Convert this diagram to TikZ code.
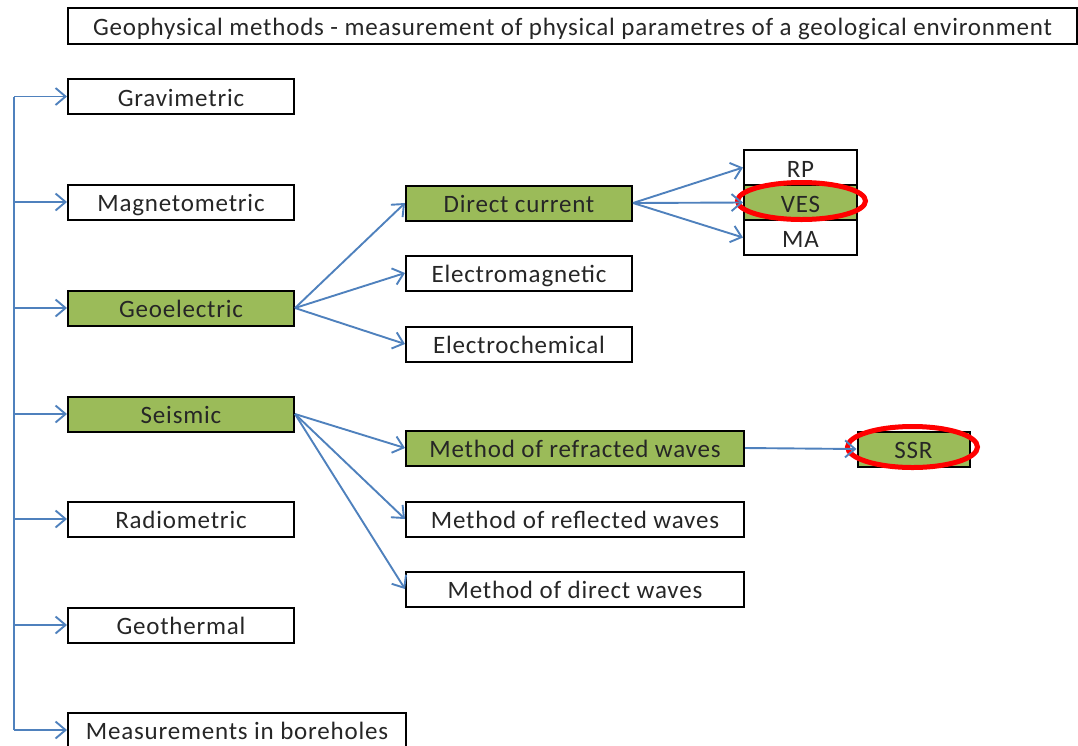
\documentclass[tikz,border=0pt]{standalone}
\usepackage{fontspec}
\setmainfont{Carlito}[LetterSpace=3.2]
\usepackage{xcolor}
\usetikzlibrary{
    arrows.meta,
    shapes.geometric,
    calc,
    positioning,
}
\definecolor{linkBlue}{RGB}{79,129,189}
\definecolor{usedGreen}{RGB}{155,187,89}

\begin{document}
\begin{tikzpicture}[x=1pt,y=-1pt,>={Straight Barb[length=10pt,width=17pt]}]

    \tikzstyle{commonNode}=[draw=black, line width=2pt, rectangle, inner sep=0pt, font=\fontsize{25}{28}\selectfont, minimum height=35pt, text height=22pt, text depth=3pt, text=black!85]
    \tikzstyle{method}=[commonNode, minimum width=226pt]
    \tikzstyle{wideMethod}=[commonNode, minimum width=338pt]
    \tikzstyle{smallMethod}=[commonNode, minimum width=113pt]
    \tikzstyle{used}=[fill=usedGreen]
    \tikzstyle{post}=[->, draw=linkBlue, line width=1.9pt]
    \tikzstyle{ring}=[ellipse, draw=red, line width=5pt, inner sep=0pt]

    % Frame
    \useasboundingbox (0,0) rectangle (1078,745);

    % Spacing the nodes out
    \def \colA {181}
    \def \colB {519}
    \def \colBwide {575}

    % Title
    \node at (572.5,26) [commonNode, minimum width=1009pt, minimum height=36pt] (title)
        {Geophysical methods - measurement of physical parametres of a geological environment};

    % Main groups
    \node at (\colA, 96.5)  [method]       (GR) {Gravimetric};
    \node at (\colA, 202)   [method]       (MG) {Magnetometric};
    \node at (\colA, 308)   [method, used] (GE) {Geoelectric};
    \node at (\colA, 414)   [method, used] (SE) {Seismic};
    \node at (\colA, 519)   [method]       (RA) {Radiometric};
    \node at (\colA, 625)   [method]       (GT) {Geothermal};
    \node at (237, 730)     [wideMethod]   (BH) {Measurements in boreholes};

    % Geoelectric branch
    \node at (\colB, 203)   [method, used] (DC) {Direct current};
    \node at (\colB, 273)   [method]       (EM) {Electromagnetic};
    \node at (\colB, 344)   [method]       (EC) {Electrochemical};
    \node at (800.5, 167.5) [smallMethod]        (RP)  {RP};
    \node at (800.5, 202.5) [smallMethod, used]  (VES) {VES};
    \node at (800.5, 237.5) [smallMethod]        (MA)  {MA};

    % Seismic branch
    \node at (\colBwide, 448) [wideMethod, used] (RFR) {Method of refracted waves};
    \node at (\colBwide, 519) [wideMethod]       (RFL) {Method of reflected waves};
    \node at (\colBwide, 589) [wideMethod]       (DW)  {Method of direct waves};
    \node at (913.5, 449)     [smallMethod, used, minimum width=112pt] (SSR) {SSR};

    % Highlights
    \node at (801.5, 201) [ring, minimum width=128pt, minimum height=37pt] (VESring) {};
    \node at (912.5, 447) [ring, minimum width=130pt, minimum height=41pt] (SSRring) {};

    % Spine on the left
    \coordinate (spine) at (14,96.5);
    \draw[draw=linkBlue, line width=1.9pt] (spine |- GR.west) -- (spine |- BH.west);
    \foreach \n in {GR,MG,GE,SE,RA,GT,BH}
        \draw[post] (spine |- \n.west) -- (\n.west);

    % Links
    \foreach \a/\b in {GE/DC, GE/EM, GE/EC, SE/RFR, SE/RFL, SE/DW, DC/RP, DC/VES, DC/MA, RFR/SSR}
        \draw[post] (\a.east) -- (\b.west);

\end{tikzpicture}
\end{document}
